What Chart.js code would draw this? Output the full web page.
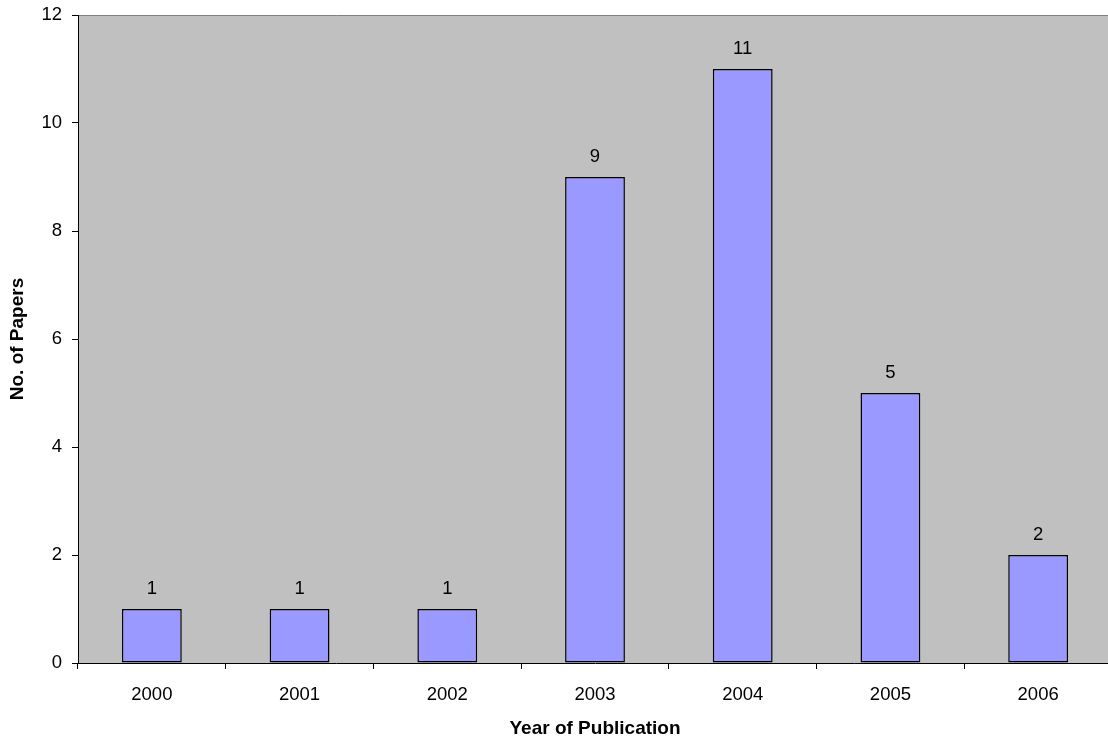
<!DOCTYPE html>
<html>
<head>
<meta charset="utf-8">
<script src="https://cdn.jsdelivr.net/npm/chart.js@4/dist/chart.umd.min.js"></script>
<style>
  html, body { margin: 0; padding: 0; background: #ffffff; overflow: hidden; }
  #wrap { position: relative; width: 1112px; height: 740px; }
</style>
</head>
<body>
<div id="wrap"><canvas id="chart"></canvas></div>
<script>
// Papers per year of publication
const years = ['2000', '2001', '2002', '2003', '2004', '2005', '2006'];
const paperCounts = [1, 1, 1, 9, 11, 5, 2];
const yTicks = [0, 2, 4, 6, 8, 10, 12];

const FONT = "'Liberation Sans', Arial, sans-serif";

// Grey plot background with a thin grey frame line across the top
const plotBackground = {
  id: 'plotBackground',
  beforeDraw(chart) {
    const { ctx, chartArea: a } = chart;
    ctx.save();
    ctx.fillStyle = '#C0C0C0';
    ctx.fillRect(a.left, a.top, a.right - a.left, a.bottom - a.top);
    ctx.strokeStyle = '#808080';
    ctx.lineWidth = 1;
    ctx.beginPath();
    ctx.moveTo(a.left, Math.round(a.top) + 0.5);
    ctx.lineTo(a.right, Math.round(a.top) + 0.5);
    ctx.stroke();
    ctx.restore();
  }
};

// Value printed above each bar
const valueLabels = {
  id: 'valueLabels',
  afterDatasetsDraw(chart) {
    const { ctx } = chart;
    const ds = chart.data.datasets[0];
    const meta = chart.getDatasetMeta(0);
    ctx.save();
    ctx.font = '18.5px ' + FONT;
    ctx.fillStyle = '#000000';
    ctx.textAlign = 'center';
    ctx.textBaseline = 'middle';
    meta.data.forEach((bar, i) => {
      ctx.fillText(String(ds.data[i]), bar.x, bar.y - 20);
    });
    ctx.restore();
  }
};

new Chart(document.getElementById('chart'), {
  type: 'bar',
  data: {
    labels: years,
    datasets: [{
      data: paperCounts,
      backgroundColor: '#9999FF',
      borderColor: '#000000',
      borderWidth: 1.5,
      borderSkipped: false,
      categoryPercentage: 1.0,
      barPercentage: 0.405
    }]
  },
  options: {
    responsive: true,
    maintainAspectRatio: false,
    animation: false,
    layout: { padding: { top: 15, left: 0, right: 0, bottom: 0 } },
    plugins: {
      legend: { display: false },
      tooltip: { enabled: false }
    },
    scales: {
      x: {
        offset: true,
        grid: {
          offset: true,
          drawOnChartArea: false,
          drawTicks: true,
          tickLength: 6,
          color: '#000000'
        },
        border: { display: true, color: '#000000', width: 1 },
        ticks: {
          color: '#000000',
          font: { family: FONT, size: 18.5 },
          padding: 15,
          maxRotation: 0
        },
        title: {
          display: true,
          text: 'Year of Publication',
          color: '#000000',
          font: { family: FONT, size: 19, weight: 'bold' },
          padding: { top: 0, bottom: 0 }
        },
        afterFit(scale) {
          scale.height = 77;
          scale.paddingLeft = 0;
          scale.paddingRight = 0;
        }
      },
      y: {
        min: 0,
        max: 12,
        afterBuildTicks(scale) { scale.ticks = yTicks.map(v => ({ value: v })); },
        grid: {
          drawOnChartArea: false,
          drawTicks: true,
          tickLength: 6,
          color: '#000000'
        },
        border: { display: true, color: '#000000', width: 1 },
        ticks: {
          color: '#000000',
          font: { family: FONT, size: 18.5 },
          padding: 10
        },
        title: {
          display: true,
          text: 'No. of Papers',
          color: '#000000',
          font: { family: FONT, size: 19, weight: 'bold' },
          padding: { top: 6.6, bottom: 0 }
        },
        afterFit(scale) {
          scale.width = 78;
          scale.paddingTop = 0;
          scale.paddingBottom = 0;
        }
      }
    }
  },
  plugins: [plotBackground, valueLabels]
});
</script>
</body>
</html>
